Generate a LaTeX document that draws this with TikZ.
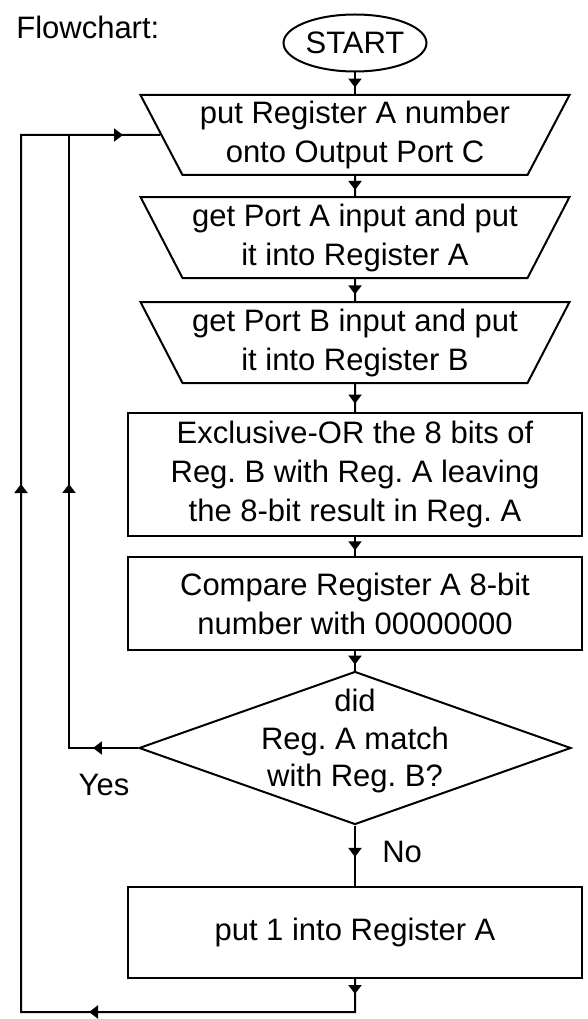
\documentclass[tikz,border=0pt]{standalone}
\usepackage{fontspec}
\setmainfont{Liberation Sans}
\usetikzlibrary{arrows.meta,shapes.geometric,decorations.markings}
\frenchspacing

\begin{document}
\begin{tikzpicture}[x=1pt,y=-1pt, line width=2pt, font={\fontsize{31}{39}\selectfont},
    iobox/.style={draw, trapezium, trapezium left angle=121, trapezium right angle=121,
      trapezium stretches body, minimum width=429pt, minimum height=80pt, inner sep=1pt, align=center},
    procbox/.style={draw, rectangle, minimum width=454pt, inner sep=0pt, align=center},
    midarrow/.style={postaction={decorate, decoration={markings,
      mark=at position #1 with {\arrow{Triangle[width=13pt,length=9pt]}}}}}]
\useasboundingbox (0,0) rectangle (587,1019);
\node[anchor=base west] (title) at (12,39) {Flowchart:};
\node[draw, ellipse, minimum width=143pt, minimum height=57pt, inner sep=0pt] (start) at (355,43) {START};
\node[iobox] (outc) at (355,135) {put Register A number\\onto Output Port C};
\node[iobox, minimum height=81pt] (getA) at (355,237.5) {get Port A input and put\\it into Register A};
\node[iobox, minimum height=81pt] (getB) at (355,342.5) {get Port B input and put\\it into Register B};
\node[procbox, minimum height=123pt] (xor) at (355,474.5) {Exclusive-OR the 8 bits of\\Reg. B with Reg. A leaving\\the 8-bit result in Reg. A};
\node[procbox, minimum height=93pt] (cmp) at (355,603.5) {Compare Register A 8-bit\\number with 00000000};
\node[draw, diamond, minimum width=432pt, minimum height=153pt, inner sep=0pt] (match) at (355,748) {};
\node[align=center, font={\fontsize{31}{37.5}\selectfont}] (matchtxt) at (355,741) {did\\Reg. A match\\with Reg. B?};
\node (yes) at (104,785) {Yes};
\node[anchor=west] (no) at (378,852) {No};
\node[procbox, minimum height=91pt] (put1) at (355,932.5) {put 1 into Register A};
\coordinate (cbot) at (355,1012);
\coordinate (cbotl) at (21,1012);
\coordinate (ctopl) at (21,135);
\coordinate (cyes) at (69,748);
\coordinate (cin) at (69,135);
\draw[midarrow=0.7] (start) -- (outc);
\draw[midarrow=0.7] (outc) -- (getA);
\draw[midarrow=0.7] (getA) -- (getB);
\draw[midarrow=0.7] (getB) -- (xor);
\draw[midarrow=0.7] (xor) -- (cmp);
\draw[midarrow=0.7] (cmp) -- (match);
\draw[midarrow=0.52] (match) -- (put1);
\draw[midarrow=15pt, midarrow=299pt, midarrow=895pt, midarrow=1346pt]
  (put1) -- (cbot) -- (cbotl) -- (ctopl) -- (outc.west);
\draw[midarrow=45pt, midarrow=333pt] (match) -- (cyes) -- (cin);
\end{tikzpicture}
\end{document}
